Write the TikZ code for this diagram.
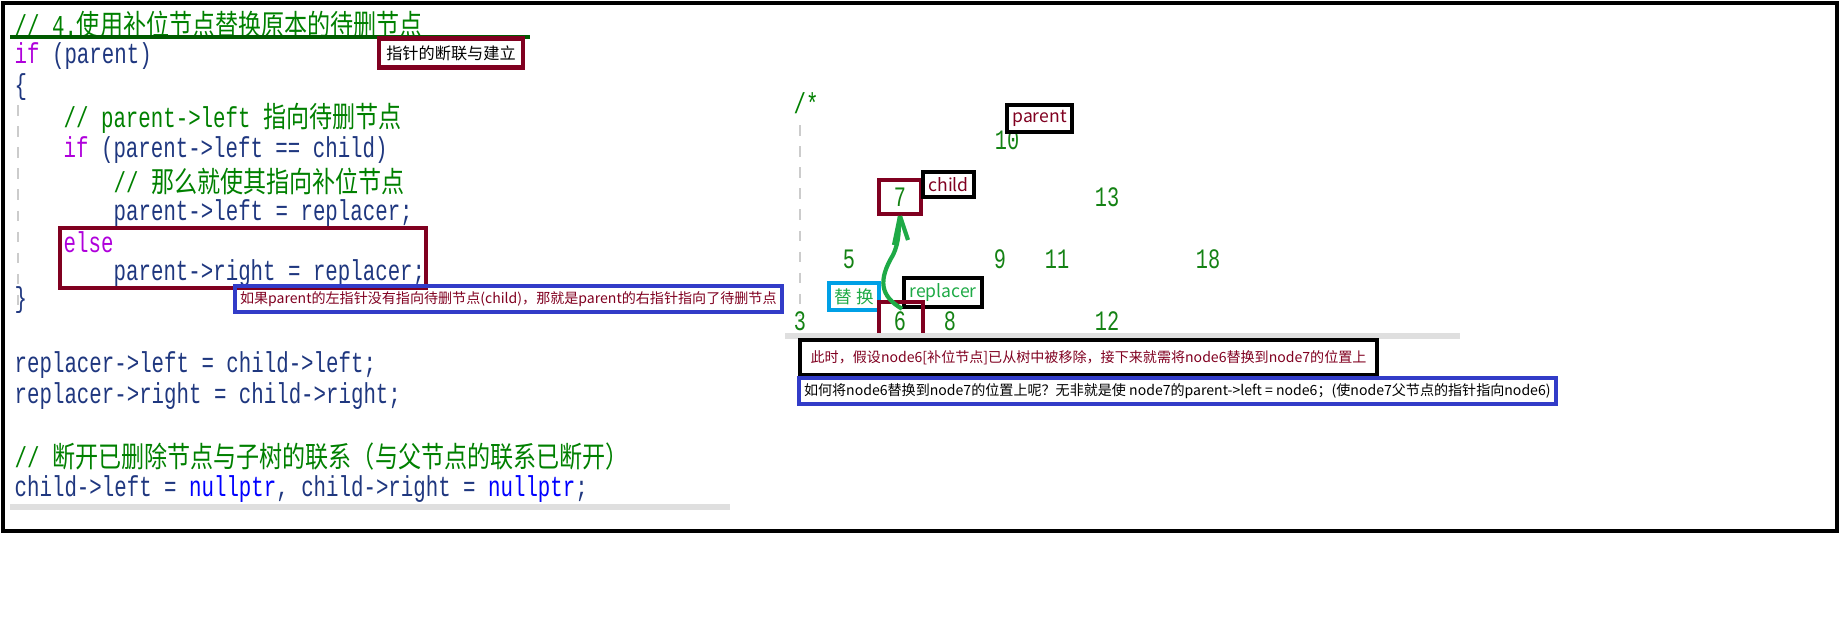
\documentclass[tikz,border=0pt]{standalone}
\usepackage{fontspec}
\setmainfont{Noto Sans CJK SC}
\newfontfamily\codefont[FakeStretch=0.72]{Liberation Mono}
\newfontfamily\cjkcode[FakeStretch=0.8]{Noto Sans CJK SC}
\usepackage{tikz}
\definecolor{kw}{RGB}{175,0,219}
\definecolor{cm}{RGB}{0,128,0}
\definecolor{id}{RGB}{31,55,127}
\definecolor{dred}{RGB}{128,0,32}
\definecolor{num}{RGB}{20,130,20}
\definecolor{bluebox}{RGB}{50,60,200}
\definecolor{cyanbox}{RGB}{0,160,230}
\definecolor{grn}{RGB}{30,170,70}
\tikzset{
  code/.style={anchor=west,inner sep=0pt,font=\codefont\fontsize{8.2}{10}\selectfont,text=id},
  num/.style={font=\fontsize{8}{10}\selectfont\codefont,text=num,inner sep=1pt},
  tag/.style={draw=black,line width=1.2pt,inner sep=1.5pt,font=\fontsize{5}{6}\selectfont,text=dred},
  note/.style={draw=bluebox,line width=1pt,inner sep=1.5pt,anchor=west,font=\fontsize{4}{5}\selectfont}
}
\newcommand{\zh}[1]{{\cjkcode #1}}
\begin{document}
\begin{tikzpicture}[x=0.01cm,y=-0.01cm]
\useasboundingbox (0,0) rectangle (1840,626);
\draw[line width=1.2pt] (3,3) rectangle (1837,531);

% code on the left
\node[code,text=cm] (head) at (14,24) {// 4.\zh{使用补位节点替换原本的待删节点}};
\draw[line width=1.2pt,cm!70!black] (10,37) -- (530,37);
\node[code] (ifp) at (14,56) {\textcolor{kw}{if} (parent)};
\node[code] (ob) at (14,87) {\{};
\node[code,text=cm] (c1) at (63,118) {// parent->left \zh{指向待删节点}};
\node[code] (if2) at (63,150) {\textcolor{kw}{if} (parent->left == child)};
\node[code,text=cm] (c2) at (113,181) {// \zh{那么就使其指向补位节点}};
\node[code] (l1) at (113,213) {parent->left = replacer;};
\node[code,text=kw] (els) at (63,242) {else};
\node[code] (l2) at (113,273) {parent->right = replacer;};
\node[code] (cb) at (14,300) {\}};
\node[code] (r1) at (14,365) {replacer->left = child->left;};
\node[code] (r2) at (14,396) {replacer->right = child->right;};
\node[code,text=cm] (c3) at (14,457) {// \zh{断开已删除节点与子树的联系（与父节点的联系已断开）}};
\node[code] (r3) at (14,489) {child->left = \textcolor{blue}{nullptr}, child->right = \textcolor{blue}{nullptr};};
\draw[gray!25,line width=1.5pt] (10,507) -- (730,507);
\draw[gray!40,dashed] (18,105) -- (18,310);
\draw[dred,line width=1.2pt] (60,228) rectangle (426,288);
\node[draw=dred,line width=1.2pt,inner sep=2pt,font=\fontsize{4.6}{6}\selectfont,text=black] (lnk) at (451,53) {指针的断联与建立};
\node[note,text=dred] (why) at (233,299) {如果parent的左指针没有指向待删节点(child)，那就是parent的右指针指向了待删节点};

% tree on the right
\node[code,text=cm] (cmt) at (793,103) {/*};
\draw[gray!40,dashed] (800,125) -- (800,315);
\node[num] (n10) at (1007,140) {10};
\node[num,draw=dred,line width=1.2pt,minimum width=0.42cm,minimum height=0.34cm] (n7) at (900,197) {7};
\node[num] (n13) at (1107,197) {13};
\node[num] (n5) at (849,259) {5};
\node[num] (n9) at (1000,259) {9};
\node[num] (n11) at (1057,259) {11};
\node[num] (n18) at (1208,259) {18};
\node[num] (n3) at (800,321) {3};
\node[num] (n6) at (900,321) {6};
\node[num] (n8) at (950,321) {8};
\node[num] (n12) at (1107,321) {12};
\node[tag,anchor=north west] (par) at (1005,103) {parent};
\node[tag,anchor=north west] (chl) at (921,170) {child};
\node[tag,anchor=north west,text=grn] (rep) at (902,276) {replacer};
\node[draw=cyanbox,line width=1.2pt,inner sep=1.5pt,font=\fontsize{5}{6}\selectfont,text=grn,anchor=north east] (swp) at (881,281) {替 换};
\draw[dred,line width=1.2pt] (879,338) -- (879,302) -- (923,302) -- (923,338);
\draw[grn,line width=1.2pt] (rep.south west) .. controls (880,296) and (878,280) .. (893,255) .. controls (900,240) and (898,230) .. (n7.south);
\draw[grn,line width=1.2pt] (n7.south) -- (894,245);
\draw[grn,line width=1.2pt] (n7.south) -- (908,240);
\draw[gray!25,line width=1.5pt] (785,336) -- (1460,336);
\node[tag,anchor=north west,inner sep=3pt,font=\fontsize{4}{5}\selectfont] (now) at (798,338) {此时，假设node6[补位节点]已从树中被移除，接下来就需将node6替换到node7的位置上};
\node[note,text=black] (how) at (797,391) {如何将node6替换到node7的位置上呢？无非就是使 node7的parent->left = node6；(使node7父节点的指针指向node6)};
\end{tikzpicture}
\end{document}
